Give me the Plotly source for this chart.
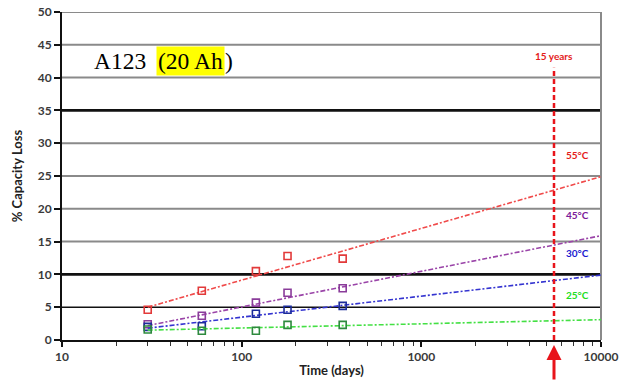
import math
import plotly.graph_objects as go

# ---- data ----
days = [30, 60, 120, 180, 365]
loss_55 = [4.6, 7.5, 10.5, 12.8, 12.4]
loss_45 = [2.4, 3.7, 5.7, 7.2, 7.9]
loss_30 = [2.0, 2.1, 4.0, 4.6, 5.2]
loss_25 = [1.6, 1.4, 1.4, 2.3, 2.3]

trend_days = [30, 10000]
trend_55 = [5.0, 24.9]
trend_45 = [2.2, 15.9]
trend_30 = [1.8, 9.9]
trend_25 = [1.5, 3.1]

series_labels = ["55°C", "45°C", "30°C", "25°C"]
label_y = [28.2, 19.1, 13.3, 6.9]
label_x_days = 7430

fifteen_years_days = 5475
fifteen_years_top = 41.5
x_ticks = [10, 100, 1000, 10000]
x_minor = [m * d for d in (10, 100, 1000) for m in range(2, 10)]
y_ticks = [0, 5, 10, 15, 20, 25, 30, 35, 40, 45, 50]
dark_grid = [5]
heavy_grid = [10, 35]

line_colors = ["#f04a4a", "#9a44a8", "#3434d0", "#44e044"]
marker_colors = ["#e23a3a", "#8a3c9a", "#1c2c9a", "#2e8a3e"]
label_colors = ["#e41b1b", "#7a1a9a", "#1a1ad0", "#22dd22"]

fig = go.Figure()

for vals, tr, lc, mc in zip([loss_55, loss_45, loss_30, loss_25],
                            [trend_55, trend_45, trend_30, trend_25],
                            line_colors, marker_colors):
    fig.add_trace(go.Scatter(x=trend_days, y=tr, mode="lines",
                             line=dict(color=lc, width=1.6, dash="5px,2px,2px,2px"),
                             showlegend=False, hoverinfo="skip"))
    fig.add_trace(go.Scatter(x=days, y=vals, mode="markers",
                             marker=dict(symbol="square-open", size=7, color=mc,
                                         line=dict(width=1.6, color=mc)),
                             showlegend=False))

# 15-year marker line
fig.add_trace(go.Scatter(x=[fifteen_years_days, fifteen_years_days],
                         y=[0, fifteen_years_top], mode="lines",
                         line=dict(color="#e8141b", width=2.5, dash="5px,3px"),
                         showlegend=False, hoverinfo="skip"))

shapes = []
# horizontal grid lines
for yv in y_ticks[1:]:
    if yv in heavy_grid:
        col, w = "#111111", 2.8
    elif yv in dark_grid:
        col, w = "#111111", 1.6
    else:
        col, w = "#8a8a8a", 2
    shapes.append(dict(type="line", xref="paper", yref="y", x0=0, x1=1, y0=yv, y1=yv,
                       line=dict(color=col, width=w), layer="between"))
# right border
shapes.append(dict(type="line", xref="paper", yref="paper", x0=1, x1=1, y0=0, y1=1,
                   line=dict(color="#8a8a8a", width=2), layer="between"))

annotations = []
serif = "Liberation Serif, Times New Roman, serif"
ty = 0.8506
annotations.append(dict(xref="paper", yref="paper", x=0.0557, y=ty, text="A123",
                        showarrow=False, xanchor="left", yanchor="middle",
                        font=dict(family=serif, size=23.5, color="black")))
annotations.append(dict(xref="paper", yref="paper", x=0.1744, y=ty, text="(20 Ah",
                        showarrow=False, xanchor="left", yanchor="middle",
                        bgcolor="#ffff00", borderpad=1,
                        font=dict(family=serif, size=23.5, color="black")))
annotations.append(dict(xref="paper", yref="paper", x=0.2990, y=ty, text=")",
                        showarrow=False, xanchor="left", yanchor="middle",
                        font=dict(family=serif, size=23.5, color="black")))

annotations.append(dict(x=math.log10(fifteen_years_days), y=43.3, text="<b>15 years</b>",
                        showarrow=False, xanchor="center", yanchor="middle",
                        font=dict(family="Lato, sans-serif", size=10, color="#e41b1b")))
for t, yv, c in zip(series_labels, label_y, label_colors):
    annotations.append(dict(x=math.log10(label_x_days), y=yv, text="<b>" + t + "</b>",
                            showarrow=False, xanchor="center", yanchor="middle",
                            font=dict(family="Lato, sans-serif", size=10, color=c)))
# arrow below axis
annotations.append(dict(x=math.log10(fifteen_years_days), y=-0.015, xref="x", yref="paper",
                        text="", showarrow=True, ax=0, ay=36, arrowhead=2, arrowsize=1,
                        arrowwidth=3, arrowcolor="#e8141b"))

tick_font = dict(family="Lato, sans-serif", size=12, color="#3a3a3a", weight="bold")

fig.update_layout(
    width=633, height=383,
    margin=dict(l=62, r=32, t=12, b=43),
    paper_bgcolor="white", plot_bgcolor="white",
    shapes=shapes, annotations=annotations,
    xaxis=dict(type="log", range=[1, 4], tickvals=x_ticks, ticktext=[str(v) for v in x_ticks],
               showgrid=False, showline=True, linecolor="#111111", linewidth=2,
               ticks="outside", ticklen=5, tickwidth=1.5, tickcolor="#111111",
               tickfont=tick_font, zeroline=False, automargin=False,
               minor=dict(ticks="outside", ticklen=4, tickwidth=1.2, tickcolor="#333333",
                          showgrid=False, tickvals=x_minor),
               title=dict(text="<b>Time (days)</b>", standoff=2,
                          font=dict(family="Lato, sans-serif", size=13, color="#222222"))),
    yaxis=dict(range=[0, 50], tickvals=y_ticks, showgrid=False,
               showline=True, linecolor="#111111", linewidth=2, zeroline=False,
               ticks="outside", ticklen=6, tickwidth=1.5, tickcolor="#111111",
               tickfont=tick_font, automargin=False,
               title=dict(text="<b>% Capacity Loss</b>", standoff=12,
                          font=dict(family="Lato, sans-serif", size=13, color="#222222"))),
)

# remove the page's default body margin so the figure fills the window exactly
fig.write_html("out.html", config={"displayModeBar": False},
               post_script="document.body.style.margin='0';")
